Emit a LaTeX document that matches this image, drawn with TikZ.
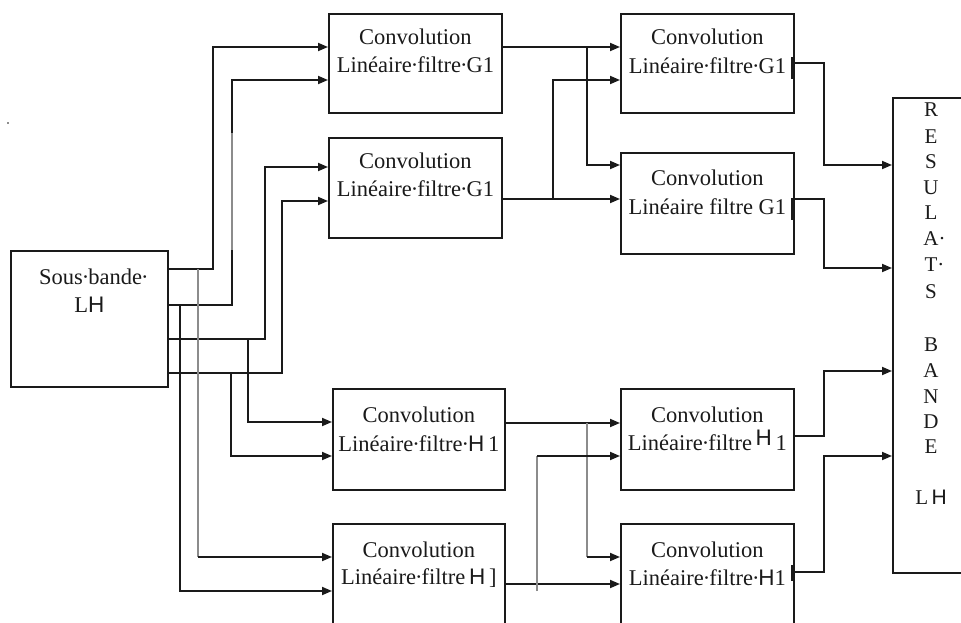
\documentclass[tikz,border=0pt]{standalone}
\usepackage{fontspec}
\setmainfont{Liberation Serif}
\newfontfamily\hsans{Liberation Sans}
\usetikzlibrary{arrows.meta,calc}
\definecolor{ink}{HTML}{1A1A1A}
\definecolor{faintink}{HTML}{8C8C8C}
% word-space marker: a centred dot in a narrow box
\newcommand\spdot{\hbox to 5.5pt{\hss·\hss}}
\begin{document}
\begin{tikzpicture}[x=1pt,y=-1pt,
  blockbox/.style={draw=ink,line width=1.8pt,anchor=north west,inner sep=0pt},
  conv/.style={blockbox,minimum width=173pt,minimum height=100pt},
  txt/.style={font=\fontsize{22.5}{28}\selectfont,anchor=base,inner sep=0pt,text=ink},
  restxt/.style={txt,font=\fontsize{21}{25}\selectfont},
  arr/.style={draw=ink,line width=1.8pt,-{Triangle[length=10pt,width=8pt]}},
  faint/.style={draw=faintink,line width=1.9pt},
  cursor/.style={draw=ink,line width=3pt}]
\useasboundingbox (0,0) rectangle (961,623);
\clip (0,0) rectangle (961,623);

% ---- blocks ----
\node[blockbox,minimum width=157pt,minimum height=136pt] (src) at (10,250) {};
\node[conv,minimum height=99pt] (c11) at (328,13) {};
\node[conv] (c12) at (328,137) {};
\node[conv,minimum width=172pt,minimum height=101pt] (c13) at (332,388) {};
\node[conv,minimum width=172pt,minimum height=110pt] (c14) at (332,523) {};
\node[conv,minimum height=99pt] (d11) at (620,13) {};
\node[conv,minimum height=101pt] (d12) at (620,152) {};
\node[conv,minimum height=101pt] (d13) at (620,388) {};
\node[conv,minimum height=110pt] (d14) at (620,523) {};
\node[blockbox,minimum width=100pt,minimum height=475pt] (res) at (892,97) {};

% ---- block texts ----
\node[txt] (srcA) at ($(src.north)+(4,34)$) {Sous\spdot bande\spdot};
\node[txt] (srcB) at ($(src.north)+(0,62)$) {L{\hsans H}};

\node[txt] (c11A) at ($(c11.north)+(0,32)$) {Convolution};
\node[txt] (c11B) at ($(c11.north)+(0,60)$) {Linéaire\spdot filtre\spdot G1};
\node[txt] (c12A) at ($(c12.north)+(0,31)$) {Convolution};
\node[txt] (c12B) at ($(c12.north)+(0,59)$) {Linéaire\spdot filtre\spdot G1};
\node[txt] (c13A) at ($(c13.north)+(0,34)$) {Convolution};
\node[txt] (c13B) at ($(c13.north)+(0,63)$) {Linéaire\spdot filtre\spdot{\hsans H}\,1};
\node[txt] (c14A) at ($(c14.north)+(0,34)$) {Convolution};
\node[txt] (c14B) at ($(c14.north)+(0,61)$) {Linéaire\spdot filtre\,{\hsans H}\,]};

\node[txt] (d11A) at ($(d11.north)+(0,32)$) {Convolution};
\node[txt] (d11B) at ($(d11.north)+(0,61)$) {Linéaire\spdot filtre\spdot G1};
\node[txt] (d12A) at ($(d12.north)+(0,33)$) {Convolution};
\node[txt] (d12B) at ($(d12.north)+(0,62)$) {Linéaire filtre G1};
\node[txt] (d13A) at ($(d13.north)+(0,34)$) {Convolution};
\node[txt] (d13B) at ($(d13.north)+(0,62)$) {Linéaire\spdot filtre\,\raisebox{5pt}{\hsans H}\,1};
\node[txt] (d14A) at ($(d14.north)+(0,34)$) {Convolution};
\node[txt] (d14B) at ($(d14.north)+(0,62)$) {Linéaire\spdot filtre\spdot{\hsans H}1};

% vertical title of the result block
\foreach \ch/\yy [count=\i] in {R/117,E/143,S/168,U/194,L/219,A\rlap{·}/245,T\rlap{·}/271,S/298,
                                B/351,A/377,N/403,D/428,E/453,L\,{\hsans H}/504}
  \node[restxt] (resT\i) at (931,\yy) {\ch};

% ---- ports ----
\coordinate (so1) at ($(src.north east)+(0,19)$);
\coordinate (so2) at ($(src.north east)+(0,55)$);
\coordinate (so3) at ($(src.north east)+(0,89)$);
\coordinate (so4) at ($(src.north east)+(0,123)$);

\coordinate (c11i1) at ($(c11.north west)+(0,34)$);
\coordinate (c11i2) at ($(c11.north west)+(0,67)$);
\coordinate (c12i1) at ($(c12.north west)+(0,30)$);
\coordinate (c12i2) at ($(c12.north west)+(0,64)$);
\coordinate (c13i1) at ($(c13.north west)+(0,34)$);
\coordinate (c13i2) at ($(c13.north west)+(0,68)$);
\coordinate (c14i1) at ($(c14.north west)+(0,34)$);
\coordinate (c14i2) at ($(c14.north west)+(0,68)$);

\coordinate (c11o) at ($(c11.north east)+(0,34)$);
\coordinate (c12o) at ($(c12.north east)+(0,62)$);
\coordinate (c13o) at ($(c13.north east)+(0,35)$);
\coordinate (c14o) at ($(c14.north east)+(0,61)$);

\coordinate (d11i1) at ($(d11.north west)+(0,34)$);
\coordinate (d11i2) at ($(d11.north west)+(0,67)$);
\coordinate (d12i1) at ($(d12.north west)+(0,13)$);
\coordinate (d12i2) at ($(d12.north west)+(0,47)$);
\coordinate (d13i1) at ($(d13.north west)+(0,35)$);
\coordinate (d13i2) at ($(d13.north west)+(0,68)$);
\coordinate (d14i1) at ($(d14.north west)+(0,34)$);
\coordinate (d14i2) at ($(d14.north west)+(0,61)$);

\coordinate (d11o) at ($(d11.north east)+(0,50)$);
\coordinate (d12o) at ($(d12.north east)+(0,47)$);
\coordinate (d13o) at ($(d13.north east)+(0,48)$);
\coordinate (d14o) at ($(d14.north east)+(0,49)$);

\coordinate (r1) at ($(res.north west)+(0,68)$);
\coordinate (r2) at ($(res.north west)+(0,171)$);
\coordinate (r3) at ($(res.north west)+(0,274)$);
\coordinate (r4) at ($(res.north west)+(0,359)$);

% routing columns
\coordinate (xa) at (213,0);
\coordinate (xb) at (232,0);
\coordinate (xc) at (265,0);
\coordinate (xd) at (282,0);
\coordinate (xe) at (180,0);
\coordinate (xf) at (198,0);
\coordinate (xg) at (231,0);
\coordinate (xh) at (248,0);
\coordinate (xk) at (587,0);
\coordinate (xl) at (553,0);
\coordinate (xm) at (537,0);
\coordinate (xr) at (824,0);

% ---- source to first column ----
\draw[arr] (so1) -- (so1 -| xa) |- (c11i1);
\draw[arr] (so2) -- (so2 -| xb) |- (c11i2);
\draw[faint] (xb |- 0,133) -- (xb |- 0,250);
\draw[arr] (so3) -- (so3 -| xc) |- (c12i1);
\draw[arr] (so4) -- (so4 -| xd) |- (c12i2);

\draw[arr] (so2 -| xe) |- (c14i2);
\draw[faint] (so1 -| xf) -- (c14i1 -| xf);
\draw[arr] (c14i1 -| xf) -- (c14i1);
\draw[arr] (so4 -| xg) |- (c13i2);
\draw[arr] (so3 -| xh) |- (c13i1);

% ---- first column to second column ----
\draw[arr] (c11o) -- (d11i1);
\draw[arr] (c11o -| xk) |- (d12i1);
\draw[arr] (c12o) -- (d12i2);
\draw[arr] (c12o -| xl) |- (d11i2);

\draw[arr] (c13o) -- (d13i1);
\draw[faint] (c13o -| xk) -- (d14i1 -| xk);
\draw[arr] (d14i1 -| xk) -- (d14i1);
\draw[arr] (c14o) -- (d14i2);
\draw[faint] ($(c14o -| xm)+(0,7)$) -- (d13i2 -| xm);
\draw[arr] (d13i2 -| xm) -- (d13i2);

% ---- second column to result block ----
\draw[arr] (d11o) -- (d11o -| xr) |- (r1);
\draw[arr] (d12o) -- (d12o -| xr) |- (r2);
\draw[arr] (d13o) -- (d13o -| xr) |- (r3);
\draw[arr] (d14o) -- (d14o -| xr) |- (r4);

% cursor marks at the right edge of some blocks
\draw[cursor] ($(d11.north east)+(-2,44)$) -- ++(0,22);
\draw[cursor] ($(d12.north east)+(-2,46)$) -- ++(0,22);
\draw[cursor] ($(d14.north east)+(-2,42)$) -- ++(0,16);

% stray mark
\fill[ink] (8,123) circle (0.9);
\end{tikzpicture}
\end{document}
